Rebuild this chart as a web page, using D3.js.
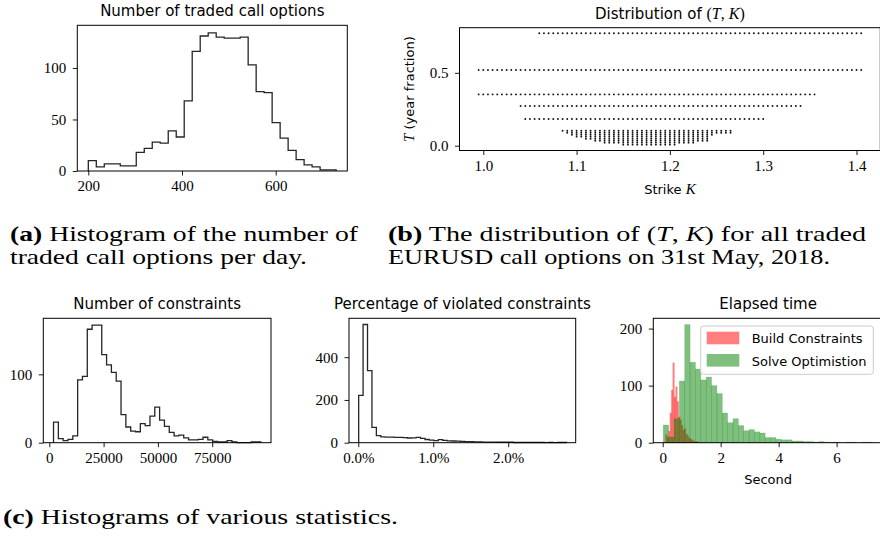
<!DOCTYPE html>
<html><head><meta charset="utf-8">
<script src="https://cdn.jsdelivr.net/npm/d3@7"></script>
<style>body{margin:0;background:#fff}svg{display:block}</style>
</head><body>
<svg id="c" width="880" height="544"></svg>
<script>
// ---------- DATA ----------
// (a) number of traded call options per day
const tradedBinStart = 200, tradedBinWidth = 17.06;
const tradedCounts = [10,4,7,7,5,5,18,22,28,27,39,33,68,116,131,134,130,129,129,130,103,77,76,47,32,20,11,6,4,1,1];
const tradedXTicks = [200,400,600];
const tradedYTicks = [0,50,100];

// (b) distribution of (T,K): expiry rows with strike ranges on a 0.005 grid
const expiryT   = [0.772, 0.52, 0.352, 0.272, 0.183, 0.103, 0.089, 0.075, 0.062, 0.048, 0.034, 0.021, 0.007];
const strikeMin = [1.06, 0.995, 0.995, 1.04, 1.045, 1.085, 1.09, 1.095, 1.10, 1.11, 1.12, 1.13, 1.15];
const strikeMax = [1.405, 1.405, 1.355, 1.34, 1.30, 1.265, 1.265, 1.245, 1.24, 1.24, 1.24, 1.225, 1.205];
const strikeStep = 0.005;
const strikeTicks = [1.0,1.1,1.2,1.3,1.4];
const expiryTicks = [0.0,0.5];

// (c1) number of constraints
const consBinStart = 1950, consBinWidth = 2220;
const consCounts = [30,6,3,5,10,92,97,166,172,172,129,114,103,90,41,23,17,16,28,25,39,52,33,24,15,10,11,7,4,4,5,8,4,2,1,1,3,1,0,0,0,1,1];
const consXTicks = [0,25000,50000,75000];
const consYTicks = [0,100];

// (c2) percentage of violated constraints
const violBinStart = 0.005, violBinWidth = 0.059;
const violCounts = [221,553,337,72,33,27,26,26,25,25,24,22,23,25,20,15,12,10,14,11,9,8,7,6,5,5,4,4,3,3,3,2,2,2,2,1,1,1,1,1,1,1,0,1,0,1,1];
const violXTicks = [0,1,2];
const violYTicks = [0,200,400];

// (c3) elapsed time
const buildBinStart = 0.10, buildBinWidth = 0.05;
const buildCounts = [14,10,20,52,92,140,80,98,72,45,40,30,22,25,15,12,8,6,5,3,2,2,1,1];
const solveBinStart = 0.02, solveBinWidth = 0.185;
const solveCounts = [31,10,42,108,207,141,129,110,115,100,86,52,35,42,30,21,23,19,17,9,9,6,5,5,3,3,2,2,1,2,1,1,1,0,1,1,0,1,1];
const timeXTicks = [0,2,4,6];
const timeYTicks = [0,100,200];
const timeSeries = ["Build Constraints","Solve Optimistion"];

// ---------- DRAW ----------
const svg = d3.select("#c");
const SANS = "DejaVu Sans", SERIF = "Liberation Serif";
const TICKFS = 15, TITLEFS = 15;

function frame(x, y){
  svg.append("rect").attr("x", x.range()[0]).attr("y", y.range()[1])
    .attr("width", x.range()[1]-x.range()[0]).attr("height", y.range()[0]-y.range()[1])
    .attr("fill","none").attr("stroke","#000").attr("stroke-width",1);
}
function axes(x, y, xt, xf, yt, yf){
  const gx = svg.append("g").attr("transform",`translate(0,${y.range()[0]})`)
    .call(d3.axisBottom(x).tickValues(xt).tickFormat(xf).tickSizeInner(4.5).tickSizeOuter(0).tickPadding(5));
  const gy = svg.append("g").attr("transform",`translate(${x.range()[0]},0)`)
    .call(d3.axisLeft(y).tickValues(yt).tickFormat(yf).tickSizeInner(4.5).tickSizeOuter(0).tickPadding(6.5));
  [gx,gy].forEach(g=>{
    g.select(".domain").remove();
    g.selectAll("line").attr("stroke","#000").attr("stroke-width",0.9);
    g.selectAll("text").attr("font-family",SERIF).attr("font-size",TICKFS).attr("fill","#000");
  });
}
function title(x, y, txt){
  return svg.append("text").attr("x",(x.range()[0]+x.range()[1])/2).attr("y",y.range()[1]-9)
    .attr("text-anchor","middle").attr("font-family",SANS).attr("font-size",TITLEFS).text(txt);
}
function stepHist(x, y, start, width, counts){
  const pts = [[start,0]];
  counts.forEach((c,i)=>{ pts.push([start+i*width,c]); pts.push([start+(i+1)*width,c]); });
  pts.push([start+counts.length*width,0]);
  svg.append("path").attr("d", d3.line().x(d=>x(d[0])).y(d=>y(d[1]))(pts))
    .attr("fill","none").attr("stroke","#262626").attr("stroke-width",1.3).attr("stroke-linejoin","miter");
}
function barHist(x, y, start, width, counts, color){
  svg.append("g").selectAll("rect").data(counts).join("rect")
    .attr("x",(d,i)=>x(start+i*width)).attr("width",(d,i)=>x(start+(i+1)*width)-x(start+i*width))
    .attr("y",d=>y(d)).attr("height",d=>y(0)-y(d))
    .attr("fill",color).attr("fill-opacity",0.5)
    .attr("stroke",color).attr("stroke-opacity",0.25).attr("stroke-width",0.6);
}

// (a)
{
  const x = d3.scaleLinear().domain([176.5,752.8]).range([77.3,347.3]);
  const y = d3.scaleLinear().domain([0,141.4]).range([171,25.3]);
  stepHist(x,y,tradedBinStart,tradedBinWidth,tradedCounts);
  frame(x,y); axes(x,y,tradedXTicks,d3.format("d"),tradedYTicks,d3.format("d"));
  title(x,y,"Number of traded call options");
}
// (b)
{
  const x = d3.scaleLinear().domain([0.9745,1.4255]).range([459.5,880.3]);
  const y = d3.scaleLinear().domain([-0.033,0.81]).range([150.5,27.7]);
  const pts = [];
  expiryT.forEach((t,i)=>{
    const n = Math.round((strikeMax[i]-strikeMin[i])/strikeStep);
    for(let j=0;j<=n;j++) pts.push([strikeMin[i]+j*strikeStep, t]);
  });
  svg.append("g").selectAll("circle").data(pts).join("circle")
    .attr("cx",d=>x(d[0])).attr("cy",d=>y(d[1])).attr("r",0.95).attr("fill","#111");
  frame(x,y); axes(x,y,strikeTicks,d3.format(".1f"),expiryTicks,d3.format(".1f"));
  const t = svg.append("text").attr("x",(x.range()[0]+x.range()[1])/2).attr("y",y.range()[1]-9)
    .attr("text-anchor","middle").attr("font-family",SANS).attr("font-size",TITLEFS);
  t.append("tspan").text("Distribution of ");
  t.append("tspan").attr("font-family",SERIF).attr("font-size",16).text("(");
  t.append("tspan").attr("font-family",SERIF).attr("font-style","italic").attr("font-size",16).text("T");
  t.append("tspan").attr("font-family",SERIF).attr("font-size",16).text(", ");
  t.append("tspan").attr("font-family",SERIF).attr("font-style","italic").attr("font-size",16).text("K");
  t.append("tspan").attr("font-family",SERIF).attr("font-size",16).text(")");
  const xl = svg.append("text").attr("x",(x.range()[0]+x.range()[1])/2).attr("y",194)
    .attr("text-anchor","middle").attr("font-family",SANS).attr("font-size",13);
  xl.append("tspan").text("Strike ");
  xl.append("tspan").attr("font-family",SERIF).attr("font-style","italic").attr("font-size",15).text("K");
  const yl = svg.append("text").attr("transform",`translate(414,${(y.range()[0]+y.range()[1])/2}) rotate(-90)`)
    .attr("text-anchor","middle").attr("font-family",SANS).attr("font-size",13);
  yl.append("tspan").attr("font-family",SERIF).attr("font-style","italic").attr("font-size",15).text("T");
  yl.append("tspan").text(" (year fraction)");
}
// (c1)
{
  const x = d3.scaleLinear().domain([-2760,102070]).range([43.3,271]);
  const y = d3.scaleLinear().domain([0,182]).range([442.7,318.3]);
  stepHist(x,y,consBinStart,consBinWidth,consCounts);
  frame(x,y); axes(x,y,consXTicks,d3.format("d"),consYTicks,d3.format("d"));
  title(x,y,"Number of constraints");
}
// (c2)
{
  const x = d3.scaleLinear().domain([-0.124,2.9]).range([349,575.7]);
  const y = d3.scaleLinear().domain([0,582]).range([442.7,318.3]);
  stepHist(x,y,violBinStart,violBinWidth,violCounts);
  frame(x,y); axes(x,y,violXTicks,d=>d3.format(".1f")(d)+"%",violYTicks,d3.format("d"));
  title(x,y,"Percentage of violated constraints");
}
// (c3)
{
  const x = d3.scaleLinear().domain([-0.324,7.6]).range([653.3,883]);
  const y = d3.scaleLinear().domain([0,218]).range([442.7,318.3]);
  barHist(x,y,buildBinStart,buildBinWidth,buildCounts,"#ff0000");
  barHist(x,y,solveBinStart,solveBinWidth,solveCounts,"#008000");
  frame(x,y); axes(x,y,timeXTicks,d3.format("d"),timeYTicks,d3.format("d"));
  title(x,y,"Elapsed time");
  svg.append("text").attr("x",(x.range()[0]+x.range()[1])/2).attr("y",484)
    .attr("text-anchor","middle").attr("font-family",SANS).attr("font-size",13).text("Second");
  const lg = svg.append("g");
  lg.append("rect").attr("x",700.7).attr("y",326).attr("width",172.6).attr("height",48.3).attr("rx",3)
    .attr("fill","#fff").attr("fill-opacity",0.8).attr("stroke","#cccccc").attr("stroke-width",1);
  const cols = ["#ff0000","#008000"];
  timeSeries.forEach((s,i)=>{
    lg.append("rect").attr("x",706.7).attr("y",331.7+22.3*i).attr("width",32.6).attr("height",12.6)
      .attr("fill",cols[i]).attr("fill-opacity",0.5);
    lg.append("text").attr("x",751.7).attr("y",343.3+22.3*i).attr("font-family",SANS).attr("font-size",13).text(s);
  });
}
// captions
function caption(xp, yp, len, label, parts){
  const t = svg.append("text").attr("x",xp).attr("y",yp).attr("font-family",SERIF).attr("font-size",21.5).attr("fill","#000")
    .attr("textLength",len).attr("lengthAdjust","spacingAndGlyphs");
  if(label) t.append("tspan").attr("font-weight","bold").text(label);
  parts.forEach(p=>{ const s=t.append("tspan").text(p.t); if(p.i) s.attr("font-style","italic"); });
}
caption(10,241,348,"(a)",[{t:" Histogram of the number of"}]);
caption(10,264,297,null,[{t:"traded call options per day."}]);
caption(388,241,478,"(b)",[{t:" The distribution of ("},{t:"T",i:1},{t:", "},{t:"K",i:1},{t:") for all traded"}]);
caption(388,264,442,null,[{t:"EURUSD call options on 31st May, 2018."}]);
caption(3,524,395,"(c)",[{t:" Histograms of various statistics."}]);
</script>
</body></html>
